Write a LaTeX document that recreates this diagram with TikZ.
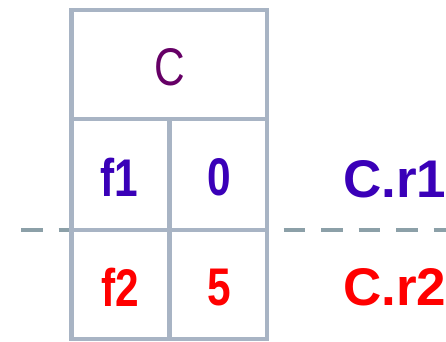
\documentclass[tikz,border=0pt]{standalone}
\usepackage{fontspec}
\setmainfont{Liberation Sans}
\definecolor{gridc}{HTML}{A8B4C4}
\definecolor{dashc}{HTML}{8CA0A8}
\definecolor{cpurple}{HTML}{660066}
\definecolor{cblue}{HTML}{3A00B8}
\definecolor{cred}{HTML}{FF0000}
\begin{document}
\begin{tikzpicture}[x=1pt,y=-1pt,
  gridline/.style={draw=gridc,line width=4.6pt},
  sepline/.style={draw=dashc,line width=4.8pt,dash pattern=on 21.5pt off 16pt},
  celltext/.style={inner sep=0pt,font=\fontsize{53}{60}\selectfont,xscale=0.8},
  rowlabel/.style={inner sep=0pt,anchor=west,font=\fontsize{53}{60}\selectfont\bfseries}]
\useasboundingbox (0,0) rectangle (446,341);
\coordinate (dl) at (21,230);
\coordinate (dr) at (460,230);
\draw[sepline] (dl) -- (dr);
\draw[gridline] (71.5,10) rectangle (267,339);
\draw[gridline] (71.5,119) -- (267,119);
\draw[gridline] (71.5,230) -- (267,230);
\draw[gridline] (169.5,119) -- (169.5,339);
\node[celltext,text=cpurple] (title) at (170,67.5) {C};
\node[celltext,text=cblue,font=\fontsize{53}{60}\selectfont\bfseries] (f1) at (119,177.5) {f1};
\node[celltext,text=cblue,font=\fontsize{53}{60}\selectfont\bfseries] (v1) at (219,177.5) {0};
\node[celltext,text=cred,font=\fontsize{53}{60}\selectfont\bfseries] (f2) at (120,287.5) {f2};
\node[celltext,text=cred,font=\fontsize{53}{60}\selectfont\bfseries] (v2) at (219,287.5) {5};
\node[rowlabel,text=cblue] (r1) at (343,179) {C.r1};
\node[rowlabel,text=cred] (r2) at (343,287) {C.r2};
\end{tikzpicture}
\end{document}
